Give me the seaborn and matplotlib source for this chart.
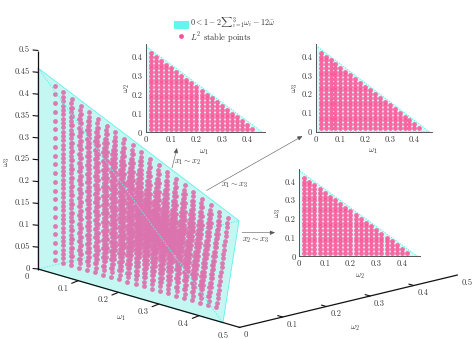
import numpy as np
import pandas as pd
import matplotlib
matplotlib.use("Agg")
import matplotlib.pyplot as plt
from matplotlib.patches import Polygon, Rectangle
import seaborn as sns

# ---------- values ----------
levels = [0.02, 0.04, 0.06, 0.08, 0.10, 0.12, 0.14, 0.16, 0.18, 0.20, 0.22,
          0.24, 0.26, 0.28, 0.30, 0.32, 0.34, 0.36, 0.38, 0.40, 0.42]
stable_sum_limit = 0.46     # outermost stable grid points
region_edge = 0.46          # where the cyan region meets each axis
w3_ticks = [0, 0.05, 0.1, 0.15, 0.2, 0.25, 0.3, 0.35, 0.4, 0.45, 0.5]
w3_labels = ["0", "0.05", "0.1", "0.15", "0.2", "0.25", "0.3", "0.35", "0.4", "0.45", "0.5"]
w12_ticks = [0, 0.1, 0.2, 0.3, 0.4, 0.5]
w12_labels = ["0", "0.1", "0.2", "0.3", "0.4", "0.5"]
inset_ticks = [0, 0.1, 0.2, 0.3, 0.4]
inset_labels = ["0", "0.1", "0.2", "0.3", "0.4"]

W, H = 473, 339
sns.set_theme(style="white")
plt.rcParams["font.family"] = ["cmr10", "DejaVu Serif"]
plt.rcParams["mathtext.fontset"] = "cm"
plt.rcParams["axes.formatter.use_mathtext"] = True
plt.rcParams["axes.unicode_minus"] = False

FS = 6.1
TXT = "#363636"
CYAN_EDGE = "#5DF2EC"
REGION = "#C4F7F2"
PINK_MAIN = "#DC74AE"
PINK = "#FF4F96"

fig = plt.figure(figsize=(W / 100, H / 100), dpi=100)

# full-figure axes in pixel units holds the oblique 3-D view
ov = fig.add_axes([0, 0, 1, 1], zorder=0)
ov.set_xlim(0, W)
ov.set_ylim(H, 0)
ov.axis("off")

O = np.array([38.0, 269.0])
E1 = np.array([402.0, 117.0])
E2 = np.array([437.0, -105.0])
E3 = np.array([0.0, -437.0])
# the view is in perspective: the interior of the box is foreshortened
P1 = np.array([404.0, 117.0])
P2 = np.array([433.0, -105.0])


def proj(a, b, c):
    return O + a * E1 + b * E2 + c * E3


rows = []
for a in levels:
    for b in levels:
        for c in levels:
            if a + b + c <= stable_sum_limit + 1e-9:
                p = O + a * P1 + b * P2 + c * E3
                rows.append((a, b, c, p[0], p[1]))
pts = pd.DataFrame(rows, columns=["w1", "w2", "w3", "px", "py"])

A = proj(region_edge, 0, 0)
B = proj(0, region_edge, 0)
C = proj(0, 0, region_edge)
ov.add_patch(Polygon([O, A, B, C], closed=True, fc=REGION, ec=CYAN_EDGE, lw=0.6, zorder=1))
ov.plot([O[0], B[0]], [O[1], B[1]], color=CYAN_EDGE, lw=0.6, ls=(0, (2, 1.5)), zorder=1.5)
sns.scatterplot(data=pts, x="px", y="py", ax=ov, color=PINK_MAIN, s=12, marker="o",
                linewidth=0, alpha=0.95, zorder=2, legend=False)
ov.set_xlim(0, W)
ov.set_ylim(H, 0)
ov.axis("off")
ov.plot([C[0], A[0]], [C[1], A[1]], color=CYAN_EDGE, lw=0.6, ls=(0, (2, 1.5)), zorder=3)

# main axes
p0 = proj(0, 0, 0)
p_top = proj(0, 0, 0.5)
ov.plot([p0[0], p_top[0]], [p0[1] + 0.5, p_top[1]], color="#111111", lw=0.9, zorder=4, solid_capstyle="butt")
a_end = proj(0.5, 0, 0)
ov.plot([p0[0], a_end[0] + 1], [p0[1], a_end[1]], color="#111111", lw=0.9, zorder=4)
b_end = a_end + 0.5 * E2
ov.plot([a_end[0], b_end[0]], [a_end[1], b_end[1]], color="#111111", lw=0.9, zorder=4)

for t, lab in zip(w3_ticks, w3_labels):
    p = proj(0, 0, t)
    ov.plot([p[0] - 5, p[0]], [p[1] - 0.5, p[1]], color="#111111", lw=0.8, zorder=4)
    ov.text(p[0] - 8.5, p[1] - 0.5, lab, ha="right", va="center", fontsize=FS, color=TXT)
for t, lab in zip(w12_ticks, w12_labels):
    p = proj(t, 0, 0)
    if 0 < t < 0.5:
        ov.plot([p[0] - 6.5, p[0]], [p[1] + 2.6, p[1]], color="#111111", lw=0.8, zorder=4)
    ov.text(p[0] - 15.5 if t > 0 else p[0] - 11, p[1] + 7.8 if t > 0 else p[1] + 8,
            lab, ha="center", va="center", fontsize=FS, color=TXT)
    q = a_end + t * E2
    if 0 < t < 0.5:
        ov.plot([q[0], q[0] - 5], [q[1], q[1] - 1.4], color="#111111", lw=0.8, zorder=4)
    ov.text(q[0] + 9.5 if t > 0 else q[0] + 7, q[1] + 7.5, lab, ha="center", va="center",
            fontsize=FS, color=TXT)

ov.text(7.5, 162, r"$\omega_3$", rotation=90, ha="center", va="center", fontsize=FS, color=TXT)
ov.text(120.5, 318, r"$\omega_1$", ha="center", va="center", fontsize=FS, color=TXT)
ov.text(355, 328, r"$\omega_2$", ha="center", va="center", fontsize=FS, color=TXT)


# insets
def inset(left, right, bottom, top, xname, yname, xlab, ylab, xl, yl):
    ax = fig.add_axes([left / W, 1 - bottom / H, (right - left) / W, (bottom - top) / H], zorder=2)
    ax.patch.set_alpha(0)
    grid = pd.DataFrame([(a, b) for a in levels for b in levels
                         if a + b <= stable_sum_limit - 0.02 + 1e-9], columns=[xname, yname])
    ax.add_patch(Polygon([(0, 0), (region_edge, 0), (0, region_edge)], closed=True,
                         fc="#D6FBF7", ec=CYAN_EDGE, lw=0.7, ls=(0, (1.5, 1.2)), zorder=1))
    sns.scatterplot(data=grid, x=xname, y=yname, ax=ax, color=PINK, s=12, linewidth=0,
                    alpha=0.85, zorder=2, legend=False, clip_on=False)
    ax.set_xlim(0, 0.47)
    ax.set_ylim(0, 0.47)
    ax.set_xticks(inset_ticks)
    ax.set_xticklabels(inset_labels, fontsize=FS, color=TXT)
    ax.set_yticks(inset_ticks)
    ax.set_yticklabels(inset_labels, fontsize=FS, color=TXT)
    ax.tick_params(direction="in", length=1.5, width=0.4, pad=2.5, colors="#333333", labelcolor=TXT)
    for s in ("top", "right"):
        ax.spines[s].set_visible(False)
    for s in ("left", "bottom"):
        ax.spines[s].set_color("#555555")
        ax.spines[s].set_linewidth(0.7)
    ax.set_xlabel("")
    ax.set_ylabel("")
    ov.text(xl[0], xl[1], xlab, ha="center", va="center", fontsize=FS, color=TXT)
    ov.text(yl[0], yl[1], ylab, rotation=90, ha="center", va="center", fontsize=FS, color=TXT)
    return ax


inset(145.7, 265, 132.3, 44, "w1", "w2", r"$\omega_1$", r"$\omega_2$", (204, 152), (127, 88))
inset(315.7, 431.7, 131.7, 43.5, "w1", "w3", r"$\omega_1$", r"$\omega_3$", (373, 151), (295, 88))
inset(299, 420, 256.3, 168.5, "w2", "w3", r"$\omega_2$", r"$\omega_3$", (359.5, 276), (278, 213))

# arrows
ARW = dict(arrowstyle="-|>,head_length=0.3,head_width=0.13", color="#555555", lw=0.4,
           shrinkA=0, shrinkB=0, mutation_scale=10)
for tail, head in [((172, 168), (177, 148)), ((206.5, 190.5), (302.5, 136)), ((242, 232.7), (275, 232.7))]:
    ov.annotate("", xy=head, xytext=tail, xycoords="data", textcoords="data", arrowprops=ARW, zorder=5)
ov.text(187.5, 162, r"$x_1\sim x_2$", ha="center", va="center", fontsize=FS, color=TXT, zorder=6)
ov.text(234.5, 185, r"$x_1\sim x_3$", ha="center", va="center", fontsize=FS, color=TXT, zorder=6)
ov.text(256, 240.7, r"$x_2\sim x_3$", ha="center", va="center", fontsize=FS, color=TXT, zorder=6)

# legend
ov.add_patch(Rectangle((174, 20.7), 15, 8.6, fc="#66F5EE", ec="none", zorder=6))
ov.scatter([181], [36], s=12, color=PINK, linewidth=0, zorder=6)
ov.text(190, 22.5, r"$0<1-2{\sum}_{i=1}^{3}\omega_i-12\bar{\omega}$", ha="left", va="center",
        fontsize=5.8, color=TXT, zorder=6)
ov.text(190, 38, r"$L^2$ stable points", ha="left", va="center", fontsize=FS, color=TXT, zorder=6)

fig.savefig("out.png", dpi=100)
